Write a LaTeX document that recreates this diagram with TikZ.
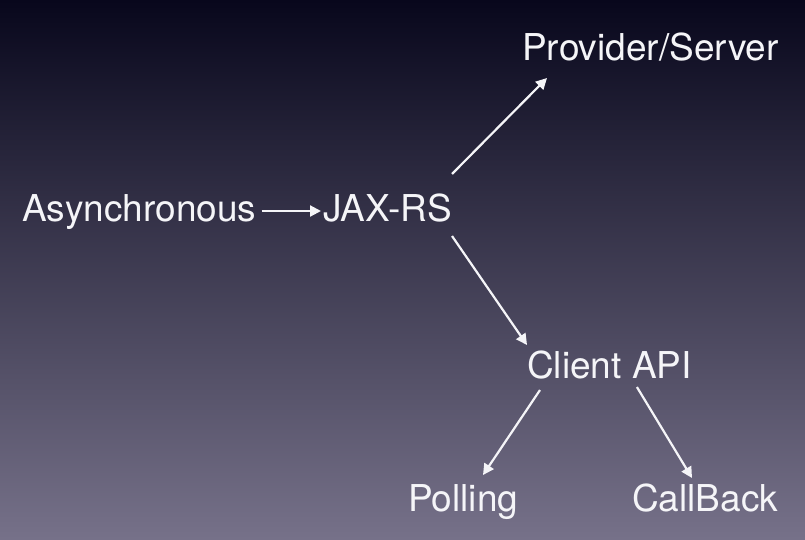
\documentclass[tikz,border=0pt]{standalone}
\usepackage{fontspec}
\setmainfont{TeX Gyre Heros}
\usetikzlibrary{arrows.meta}
\definecolor{bgtop}{RGB}{8,7,28}
\definecolor{bgmid}{RGB}{50,47,78}
\definecolor{bgbot}{RGB}{118,113,137}
\definecolor{fg}{RGB}{245,245,248}
\begin{document}
\begin{tikzpicture}[x=1pt,y=-1pt,
  lbl/.style={anchor=base west,inner sep=0pt,text=fg,font=\fontsize{37}{41}\selectfont},
  conn/.style={draw=fg,line width=2.2pt,-{Triangle[length=11pt,width=11pt]}}]
\shade[top color=bgtop,middle color=bgmid,bottom color=bgbot] (0,0) rectangle (805,539);
\useasboundingbox (0,0) rectangle (805,539);
\node[lbl] (async) at (22,221) {Asynchronous};
\node[lbl] (jax) at (323,221) {JAX-RS};
\node[lbl] (prov) at (522,60) {Provider/Server};
\node[lbl] (client) at (527,378) {Client API};
\node[lbl] (poll) at (408,511) {Polling};
\node[lbl] (cb) at (632,511) {CallBack};
\draw[conn] ([shift={(5,-10)}]async.base east) -- ([shift={(-2,-10)}]jax.base west);
\draw[conn] ([shift={(0,-47)}]jax.base east) -- ([shift={(25,18)}]prov.base west);
\draw[conn] ([shift={(0,15)}]jax.base east) -- ([shift={(0,-33)}]client.base west);
\draw[conn] ([shift={(13,12)}]client.base west) -- ([shift={(75,-36)}]poll.base west);
\draw[conn] ([shift={(-55,9)}]client.base east) -- ([shift={(60,-33)}]cb.base west);
\end{tikzpicture}
\end{document}
